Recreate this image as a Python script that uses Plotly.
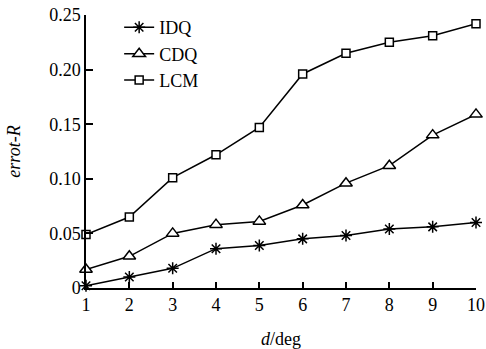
import plotly.graph_objects as go

x_vals = [1, 2, 3, 4, 5, 6, 7, 8, 9, 10]
idq = [0.002, 0.010, 0.018, 0.036, 0.039, 0.045, 0.048, 0.054, 0.056, 0.060]
cdq = [0.017, 0.029, 0.050, 0.058, 0.061, 0.076, 0.096, 0.112, 0.140, 0.159]
lcm = [0.049, 0.065, 0.101, 0.122, 0.147, 0.196, 0.215, 0.225, 0.231, 0.242]
y_tickvals = [0, 0.05, 0.10, 0.15, 0.20, 0.25]
y_ticktext = ["0", "0.05", "0.10", "0.15", "0.20", "0.25"]

FONT = "Liberation Serif"

fig = go.Figure()
fig.add_trace(go.Scatter(x=x_vals, y=idq, name="IDQ", mode="lines+markers",
                         line=dict(color="black", width=1.5),
                         marker=dict(symbol="asterisk-open", size=10, color="black",
                                     line=dict(color="black", width=1.5)),
                         cliponaxis=False))
fig.add_trace(go.Scatter(x=x_vals, y=cdq, name="CDQ", mode="lines+markers",
                         line=dict(color="black", width=1.5),
                         marker=dict(symbol="triangle-up", size=11, color="white",
                                     line=dict(color="black", width=1.5)),
                         cliponaxis=False))
fig.add_trace(go.Scatter(x=x_vals, y=lcm, name="LCM", mode="lines+markers",
                         line=dict(color="black", width=1.5),
                         marker=dict(symbol="square", size=8, color="white",
                                     line=dict(color="black", width=1.5)),
                         cliponaxis=False))

fig.update_layout(
    width=486, height=349,
    margin=dict(l=86, r=10, t=15, b=61, autoexpand=False),
    paper_bgcolor="white", plot_bgcolor="white",
    font=dict(family=FONT, size=18, color="black"),
    showlegend=True,
    legend=dict(x=0.085, y=0.974, xref="paper", yref="container",
                xanchor="left", yanchor="top",
                bgcolor="rgba(0,0,0,0)", font=dict(family=FONT, size=18),
                itemwidth=30),
    xaxis=dict(range=[1, 10], tickvals=x_vals, ticks="inside", ticklen=6,
               tickwidth=1.5, tickcolor="black", showline=True, linecolor="black",
               linewidth=1.5, showgrid=False, zeroline=False, automargin=False,
               tickfont=dict(family=FONT, size=18),
               title=dict(text="<i>d</i>/deg", font=dict(family=FONT, size=18),
                          standoff=18)),
    yaxis=dict(range=[0, 0.25], tickvals=y_tickvals, ticktext=y_ticktext,
               ticks="inside", ticklen=7, tickwidth=1.5, tickcolor="black",
               showline=True, linecolor="black", linewidth=1.5, showgrid=False,
               zeroline=False, automargin=False, tickfont=dict(family=FONT, size=18),
               title=dict(text="<i>errot-R</i>", font=dict(family=FONT, size=18),
                          standoff=24)),
)

fig.write_html("out.html", config={"displayModeBar": False},
               post_script="document.body.style.margin='0';document.body.style.overflow='hidden';")
